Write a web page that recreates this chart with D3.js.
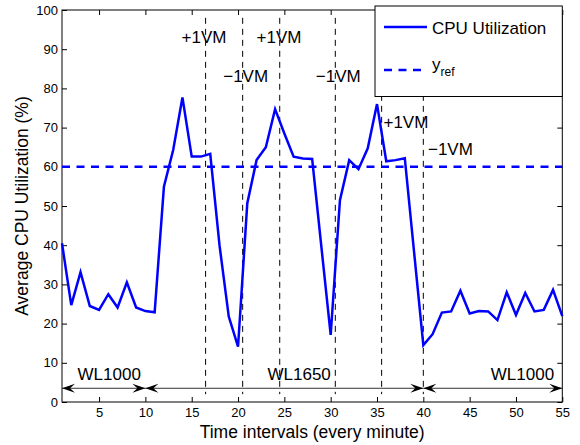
<!DOCTYPE html>
<html>
<head>
<meta charset="utf-8">
<script src="https://cdn.jsdelivr.net/npm/d3@7"></script>
<style>
  body { margin: 0; background: #fff; }
  text { font-family: "Liberation Sans", Arial, sans-serif; }
</style>
</head>
<body>
<div id="chart"></div>
<script>
// CPU utilization per minute (%)
var cpu = [40.5, 24.7, 33.1, 24.5, 23.5, 27.5, 24.1, 30.5, 24.1, 23.2,
           22.9, 54.9, 64.3, 77.7, 62.6, 62.6, 63.3, 40.0, 21.8, 14.1,
           50.7, 61.7, 65.0, 74.7, 68.5, 62.6, 62.1, 62.0, 39.5, 17.1,
           51.5, 61.7, 59.4, 64.7, 76.0, 61.4, 61.7, 62.2, 38.3, 14.5,
           17.3, 22.8, 23.1, 28.4, 22.6, 23.2, 23.1, 20.9, 28.0, 22.2,
           27.8, 23.1, 23.5, 28.6, 21.9];
var yRef = 60;

// VM add / remove events (minute), labels and where the labels sit (data units)
var vmTimes = [16.5, 20.5, 24.5, 30.5, 35.5, 40];
var vmLabels = ["+1VM", "\u22121VM", "+1VM", "\u22121VM", "+1VM", "\u22121VM"];
var vmLabelX = [13.9, 18.4, 22.0, 28.4, 35.7, 40.5];
var vmLabelY = [91.7, 81.7, 91.7, 81.7, 69.8, 63.0];

// workload phases
var wlStart = [1, 10, 40];
var wlEnd = [10, 40, 55];
var wlNames = ["WL1000", "WL1650", "WL1000"];
var wlLabelX = [6.1, 26.6, 50.7];

var xTicks = [5, 10, 15, 20, 25, 30, 35, 40, 45, 50, 55];
var yTicks = [0, 10, 20, 30, 40, 50, 60, 70, 80, 90, 100];

var W = 580, H = 445;
var svg = d3.select("#chart").append("svg")
    .attr("width", W).attr("height", H);

var x = d3.scaleLinear().domain([1, 55]).range([62, 562.3]);
var y = d3.scaleLinear().domain([0, 100]).range([402, 10]);

// axes with inward ticks on all four sides
svg.append("g")
    .attr("transform", "translate(0," + y(0) + ")")
    .call(d3.axisBottom(x).tickValues(xTicks).tickSize(-5).tickPadding(6))
    .call(function(g) { g.select(".domain").remove(); })
    .selectAll("text").style("font-size", "13px").attr("fill", "#000");
svg.append("g")
    .attr("transform", "translate(0," + y(100) + ")")
    .call(d3.axisTop(x).tickValues(xTicks).tickSize(-5).tickFormat(""))
    .call(function(g) { g.select(".domain").remove(); });
svg.append("g")
    .attr("transform", "translate(" + x(1) + ",0)")
    .call(d3.axisLeft(y).tickValues(yTicks).tickSize(-5).tickPadding(4))
    .call(function(g) { g.select(".domain").remove(); })
    .selectAll("text").style("font-size", "13px").attr("fill", "#000");
svg.append("g")
    .attr("transform", "translate(" + x(55) + ",0)")
    .call(d3.axisRight(y).tickValues(yTicks).tickSize(-5).tickFormat(""))
    .call(function(g) { g.select(".domain").remove(); });

svg.append("rect")
    .attr("x", x(1)).attr("y", y(100))
    .attr("width", x(55) - x(1)).attr("height", y(0) - y(100))
    .attr("fill", "none").attr("stroke", "#000").attr("stroke-width", 1);

// axis titles
svg.append("text")
    .attr("x", (x(1) + x(55)) / 2).attr("y", 438)
    .attr("text-anchor", "middle")
    .style("font-size", "17.5px")
    .text("Time intervals (every minute)");
svg.append("text")
    .attr("transform", "translate(28," + (y(0) + y(100)) / 2 + ") rotate(-90)")
    .attr("text-anchor", "middle")
    .style("font-size", "17.5px")
    .text("Average CPU Utilization (%)");

// VM event lines
svg.selectAll(".vm")
    .data(vmTimes).enter()
    .append("line")
    .attr("class", "vm")
    .attr("x1", function(d) { return x(d); })
    .attr("x2", function(d) { return x(d); })
    .attr("y1", y(98))
    .attr("y2", y(2))
    .attr("stroke", "#000")
    .attr("stroke-width", 1)
    .attr("stroke-dasharray", "6,5");

svg.selectAll(".vmlabel")
    .data(vmLabels).enter()
    .append("text")
    .attr("class", "vmlabel")
    .attr("x", function(d, i) { return x(vmLabelX[i]); })
    .attr("y", function(d, i) { return y(vmLabelY[i]); })
    .style("font-size", "17px")
    .text(function(d) { return d; });

// workload arrows
var defs = svg.append("defs");
defs.append("marker")
    .attr("id", "head")
    .attr("viewBox", "-14 -6 16 12")
    .attr("refX", 0).attr("refY", 0)
    .attr("markerWidth", 16).attr("markerHeight", 12)
    .attr("markerUnits", "userSpaceOnUse")
    .attr("orient", "auto-start-reverse")
    .append("path")
    .attr("d", "M0,0 L-13,-4.5 L-8,0 L-13,4.5 Z")
    .attr("fill", "#000");

svg.selectAll(".wl")
    .data(wlNames).enter()
    .append("line")
    .attr("class", "wl")
    .attr("x1", function(d, i) { return x(wlStart[i]); })
    .attr("x2", function(d, i) { return x(wlEnd[i]); })
    .attr("y1", y(3.5)).attr("y2", y(3.5))
    .attr("stroke", "#333")
    .attr("stroke-width", 1)
    .attr("marker-start", "url(#head)")
    .attr("marker-end", "url(#head)");

svg.selectAll(".wllabel")
    .data(wlNames).enter()
    .append("text")
    .attr("class", "wllabel")
    .attr("x", function(d, i) { return x(wlLabelX[i]); })
    .attr("y", y(5.7))
    .attr("text-anchor", "middle")
    .style("font-size", "17px")
    .text(function(d) { return d; });

// reference line
svg.append("line")
    .attr("x1", x(1)).attr("x2", x(55))
    .attr("y1", y(yRef)).attr("y2", y(yRef))
    .attr("stroke", "#0000ff")
    .attr("stroke-width", 2.5)
    .attr("stroke-dasharray", "8,6.5");

// CPU line
var line = d3.line()
    .x(function(d, i) { return x(i + 1); })
    .y(function(d) { return y(d); });

svg.append("path")
    .datum(cpu)
    .attr("d", line)
    .attr("fill", "none")
    .attr("stroke", "#0000ff")
    .attr("stroke-width", 2.5)
    .attr("stroke-linejoin", "miter");

// legend
var lg = svg.append("g");
lg.append("rect")
    .attr("x", 375).attr("y", 6)
    .attr("width", x(55) - 375).attr("height", 90.5)
    .attr("fill", "#fff").attr("stroke", "#000").attr("stroke-width", 1);
lg.append("line")
    .attr("x1", 384).attr("x2", 427).attr("y1", 27).attr("y2", 27)
    .attr("stroke", "#0000ff").attr("stroke-width", 2.5);
lg.append("text")
    .attr("x", 432).attr("y", 33.5)
    .style("font-size", "17px")
    .text("CPU Utilization");
lg.append("line")
    .attr("x1", 384).attr("x2", 427).attr("y1", 70).attr("y2", 70)
    .attr("stroke", "#0000ff").attr("stroke-width", 2.5)
    .attr("stroke-dasharray", "8,6.5");
var t2 = lg.append("text")
    .attr("x", 432).attr("y", 70)
    .style("font-size", "17px");
t2.append("tspan").text("y");
t2.append("tspan").attr("dy", 6).style("font-size", "12px").text("ref");
</script>
</body>
</html>
